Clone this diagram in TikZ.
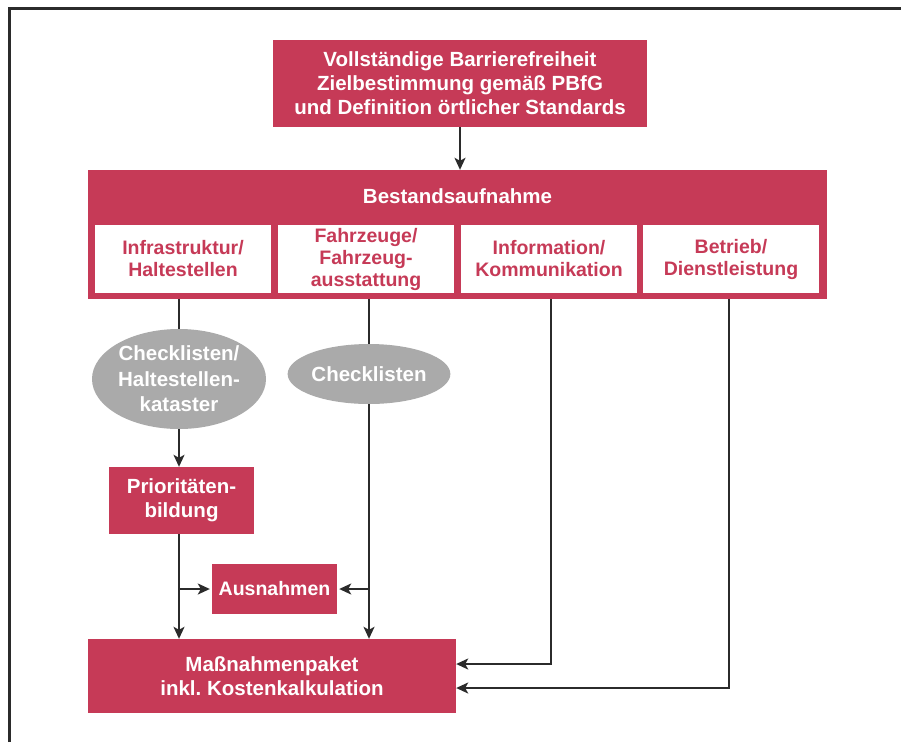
\documentclass[tikz,border=0pt]{standalone}
\usepackage{fontspec}
\setmainfont{Liberation Sans}
\usetikzlibrary{shapes.geometric,arrows.meta}
\definecolor{crim}{HTML}{C63A57}
\definecolor{ellg}{HTML}{AAAAAA}
\definecolor{lnc}{HTML}{2B2B2B}
\frenchspacing
\begin{document}
\begin{tikzpicture}[x={(1pt,0)},y={(0,-1pt)},
  redbox/.style={draw=none,fill=crim,text=white,align=center,inner sep=0pt,
    font=\fontsize{20.5}{24}\selectfont\bfseries},
  subbox/.style={draw=none,fill=white,text=crim,align=center,inner sep=0pt,
    minimum width=176pt,minimum height=68pt,font=\fontsize{19.5}{22}\selectfont\bfseries},
  graybox/.style={ellipse,draw=none,fill=ellg,text=white,align=center,inner sep=0pt,
    font=\fontsize{20.5}{25.5}\selectfont\bfseries},
  conn/.style={draw=lnc,line width=1.8pt},
  arr/.style={conn,-{Stealth[length=12pt,width=11pt,inset=3pt]}}]
\useasboundingbox (0,0) rectangle (901,742);
\fill[white] (0,0) rectangle (901,742);
\draw[lnc,line width=3pt] (9,742) -- (9,8) -- (901,8);

\node[redbox,minimum width=374pt,minimum height=87pt] (top) at (460,83.5)
  {Vollständige Barrierefreiheit\\Zielbestimmung gemäß PBfG\\und Definition örtlicher Standards};
\node[redbox,minimum width=739pt,minimum height=129pt] (bst) at (457.5,234.5) {};
\node[text=white,font=\fontsize{20.5}{24}\selectfont\bfseries] (bsttitle) at (457.5,196) {Bestandsaufnahme};
\node[subbox] (sa) at (183,259) {Infrastruktur/\\Haltestellen};
\node[subbox] (sb) at (366,259) {Fahrzeuge/\\Fahrzeug-\\ausstattung};
\node[subbox] (sc) at (549,259) {Information/\\Kommunikation};
\node[subbox] (sd) at (731,259) {Betrieb/\\Dienstleistung};

\node[graybox,minimum width=174pt,minimum height=100pt] (e1) at (179,379)
  {Checklisten/\\Haltestellen-\\kataster};
\node[graybox,minimum width=150pt,minimum height=60pt] (e2) at (369,374) {Checklisten};

\node[redbox,minimum width=145pt,minimum height=67pt] (pr) at (181.5,500.5) {Prioritäten-\\bildung};
\node[redbox,minimum width=125pt,minimum height=50pt,font=\fontsize{19.5}{24}\selectfont\bfseries] (au) at (274.5,589) {Ausnahmen};
\node[redbox,minimum width=368pt,minimum height=74pt] (ms) at (272,676)
  {Maßnahmenpaket\\inkl. Kostenkalkulation};

\coordinate (cc) at (551,299);
\coordinate (dd) at (729,299);

\draw[arr] (top.south) -- (top.south |- bst.north);
\draw[conn] (e1.north |- bst.south) -- (e1.north);
\draw[arr] (e1.south) -- (e1.south |- pr.north);
\draw[arr] (pr.south -| e1.south) -- (e1.south |- ms.north);
\draw[arr] (au.west -| e1.south) -- ([xshift=-2pt]au.west);
\draw[conn] (e2.north |- bst.south) -- (e2.north);
\draw[arr] (e2.south) -- (e2.south |- ms.north);
\draw[arr] (au.east -| e2.south) -- ([xshift=2pt]au.east);
\draw[arr] (cc) |- ([yshift=12pt]ms.east);
\draw[arr] (dd) |- ([yshift=-12pt]ms.east);
\end{tikzpicture}
\end{document}
